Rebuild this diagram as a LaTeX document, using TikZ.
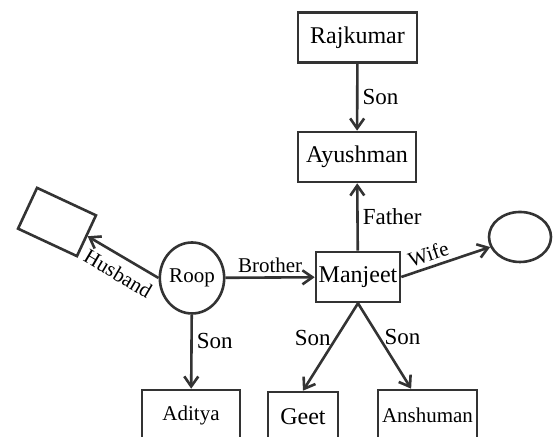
\documentclass[tikz,border=0pt]{standalone}
\usepackage{fontspec}
\setmainfont{Liberation Serif}
\usetikzlibrary{arrows.meta,shapes.geometric}

\begin{document}
\begin{tikzpicture}
  [x=0.5pt,y=0.5pt,line width=1.3pt,draw=black!80,
   box/.style={draw=black!80,rectangle,inner sep=0pt,minimum height=25pt,font=\rmfamily\fontsize{12}{14}\selectfont},
   oval/.style={draw=black!80,ellipse,inner sep=0pt,font=\rmfamily\fontsize{10.5}{12}\selectfont},
   rel/.style={draw=black!80,-{Straight Barb[length=5pt,width=7pt]}},
   lab/.style={font=\rmfamily\fontsize{11.5}{13}\selectfont,inner sep=2pt},
   small/.style={font=\rmfamily\fontsize{10.5}{12}\selectfont}]
  \useasboundingbox (0,0) rectangle (553,437);

  \node[box,minimum width=59.5pt] (raj) at (357.5,399.5) {Rajkumar};
  \node[box,minimum width=59pt]   (ayu) at (357,280)     {Ayushman};
  \node[box,minimum width=42pt]   (man) at (358,160)     {Manjeet};
  \node[oval,minimum width=31pt,minimum height=25pt] (wife) at (520,200) {};
  \node[oval,minimum width=30pt,minimum height=35.5pt] (roop) at (192,159) {Roop};
  \node[box,rotate=-25,minimum width=32.5pt,minimum height=22.5pt] (hus) at (57,215) {};
  \node[box,small,minimum width=49pt]   (adi)  at (191,22)   {Aditya};
  \node[box,minimum width=35pt]         (geet) at (303,20)   {Geet};
  \node[box,small,minimum width=49.5pt] (ansh) at (427.5,22) {Anshuman};

  \draw[rel] (raj) -- node[lab,right] {Son} (ayu);
  \draw[rel] (man) -- node[lab,right] {Father} (ayu);
  \draw[rel] (roop) -- node[lab,small,above] {Brother} (man);
  \draw[rel] (man.east) -- node[lab,small,sloped,above,pos=0.35] {Wife} (wife);
  \draw[rel] (roop.west) -- node[lab,small,sloped,below,inner sep=4pt,pos=0.45] {Husband} (hus.east);
  \draw[rel] (roop) -- node[lab,right,pos=0.35] {Son} (adi);
  \draw[rel] (man.south) -- node[lab,left,pos=0.4] {Son} (geet.north);
  \draw[rel] (man.south) -- node[lab,right,pos=0.4] {Son} (ansh);
\end{tikzpicture}
\end{document}
